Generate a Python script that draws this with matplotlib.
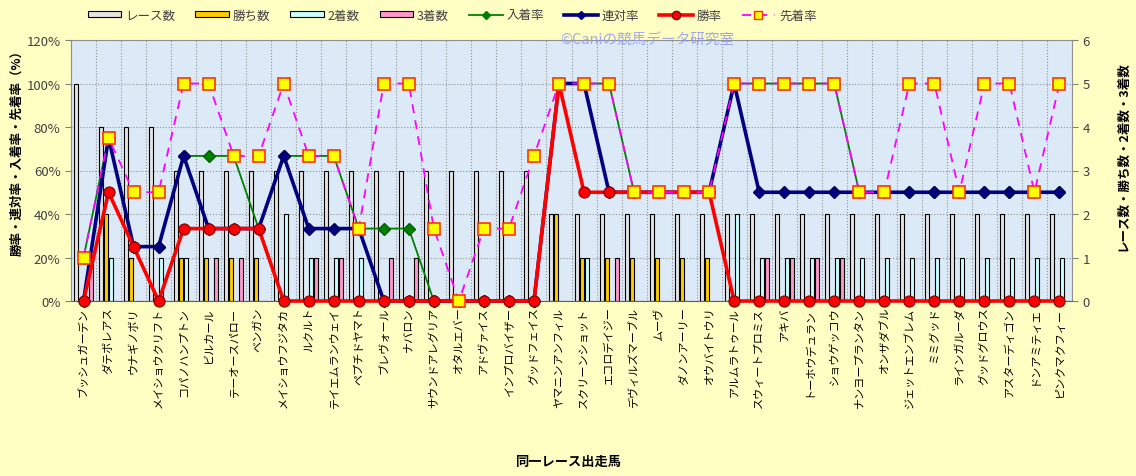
import numpy as np
import matplotlib
matplotlib.use("Agg")
import matplotlib.pyplot as plt
from matplotlib.lines import Line2D
from matplotlib.patches import Patch

plt.rcParams['font.family'] = ['Noto Sans CJK JP', 'DejaVu Sans']

HORSES = ["ブッシュガーデン", "ダテボレアス", "ウナギノボリ", "メイショウクリフト", "コパノハンプトン",
          "ビルカール", "テーオースパロー", "ベンガン", "メイショウフジタカ", "ルクルト",
          "テイエムランウェイ", "ペプチドヤマト", "ブレヴォール", "ナバロン", "サウンドアレグリア",
          "オタルエバー", "アドヴァイス", "インプロバイザー", "グッドフェイス", "ヤマニンアンフィル",
          "スクリーンショット", "エコロデイジー", "デヴィルズマーブル", "ムーヴ", "ダノンアーリー",
          "オウバイトウリ", "アルムラトゥール", "スウィートプロミス", "アキバ", "トーホウデュラン",
          "ショウゲッコウ", "ナンヨープランタン", "オンザダブル", "ジェットエンブレム", "ミミグッド",
          "ラインガルーダ", "グッドグロウス", "アスターディゴン", "ドンアミティエ", "ピンクマクフィー"]

# counts (right axis)
races   = [5, 4, 4, 4] + [3] * 15 + [2] * 21
wins    = [0, 2, 1, 0, 1, 1, 1, 1] + [0] * 11 + [2, 1, 1, 1, 1, 1, 1] + [0] * 14
seconds = [0, 1, 0, 1, 1, 0, 0, 0, 2, 1, 1, 1, 0, 0, 0, 0, 0, 0, 0,
           0, 1, 0, 0, 0, 0, 0, 2] + [1] * 13
thirds  = [1, 0, 0, 0, 0, 1, 1, 0, 0, 1, 1, 0, 1, 1, 0, 0, 0, 0, 0,
           0, 0, 1, 0, 0, 0, 0, 0, 1, 1, 1, 1] + [0] * 9

# rates in % (left axis)
place_rate = [20, 75, 25, 25, 66.7, 66.7, 66.7, 33.3, 66.7, 66.7, 66.7, 33.3, 33.3, 33.3,
              0, 0, 0, 0, 0, 100, 100, 100, 50, 50, 50, 50, 100, 100, 100, 100, 100,
              50, 50, 50, 50, 50, 50, 50, 50, 50]
top2_rate = [0, 75, 25, 25, 66.7, 33.3, 33.3, 33.3, 66.7, 33.3, 33.3, 33.3, 0, 0,
             0, 0, 0, 0, 0, 100, 100, 50, 50, 50, 50, 50, 100] + [50] * 13
win_rate = [0, 50, 25, 0, 33.3, 33.3, 33.3, 33.3] + [0] * 11 + [100, 50, 50, 50, 50, 50, 50] + [0] * 14
beat_rate = [20, 75, 50, 50, 100, 100, 66.7, 66.7, 100, 66.7, 66.7, 33.3, 100, 100,
             33.3, 0, 33.3, 33.3, 66.7, 100, 100, 100, 50, 50, 50, 50, 100, 100, 100,
             100, 100, 50, 50, 100, 100, 50, 100, 100, 50, 100]

x = np.arange(len(HORSES))

fig = plt.figure(figsize=(11.36, 4.77), dpi=100, facecolor="#FFFFC4")
ax = fig.add_axes([71 / 1136, 1 - 302 / 477, 1001 / 1136, 261 / 477])
ax.set_facecolor("#DCEAF8")
ax2 = ax.twinx()

w = 0.16
bar_specs = [(races, "#E4E4E4", "レース数"), (wins, "#FFCC00", "勝ち数"),
             (seconds, "#CCFFFF", "2着数"), (thirds, "#FF99CC", "3着数")]
for i, (vals, col, lab) in enumerate(bar_specs):
    ax.bar(x + (i - 1.5) * 0.2, vals, width=w, color=col, edgecolor="black", linewidth=0.8,
           label=lab, zorder=2)
ax.set_ylim(0, 6)
ax.set_xlim(-0.5, len(HORSES) - 0.5)
ax.yaxis.tick_right()
ax.yaxis.set_label_position("right")
ax.set_yticks(range(7))
ax.set_xticks(x)
ax.set_xticklabels(HORSES, rotation=90, fontsize=8)
ax.set_xticks(np.arange(-0.5, len(HORSES)), minor=True)
ax.tick_params(axis="x", which="major", length=0, pad=4)
ax.tick_params(axis="x", which="minor", length=0)
ax.tick_params(axis="y", labelsize=9.5, labelcolor="#404040", colors="#808080", length=4)
ax.grid(True, which="minor", axis="x", color="#909090", ls=":", lw=0.8, zorder=0)
ax.grid(True, which="major", axis="y", color="#909090", ls=":", lw=0.8, zorder=0)
ax.set_axisbelow(True)
for s in ax.spines.values():
    s.set_color("#909090")
ax.spines["bottom"].set_color("#606060")
ax.set_ylabel("レース数・勝ち数・2着数・3着数", fontsize=9, fontweight="bold")
ax.yaxis.set_label_coords((1116 - 71) / 1001, (302 - 156) / 261)

ax2.yaxis.tick_left()
ax2.yaxis.set_label_position("left")
ax2.set_ylim(0, 120)
ax2.set_yticks(range(0, 121, 20))
ax2.set_yticklabels([f"{v}%" for v in range(0, 121, 20)])
ax2.tick_params(axis="y", labelsize=9.5, labelcolor="#404040", colors="#808080", length=4)
for s in ax2.spines.values():
    s.set_visible(False)
ax2.set_ylabel("勝率・連対率・入着率・先着率（%）", fontsize=9, fontweight="bold")
ax2.yaxis.set_label_coords((23 - 71) / 1001, (302 - 150) / 261)

ax2.plot(x, place_rate, color="#008000", lw=1.3, marker="D", ms=6, mfc="#008000",
         mec="#006000", label="入着率", clip_on=False, zorder=3)
ax2.plot(x, top2_rate, color="#000080", lw=2.6, marker="D", ms=6, mfc="#000080",
         mec="#000060", label="連対率", clip_on=False, zorder=4)
ax2.plot(x, win_rate, color="#FF0000", lw=2.6, marker="o", ms=8, mfc="#FF0000",
         mec="#800000", mew=0.8, label="勝率", clip_on=False, zorder=5)
ax2.plot(x, beat_rate, color="#FF00FF", lw=1.3, ls=(0, (5, 4)), marker="s", ms=8,
         mfc="#FFFF00", mec="#FF3300", mew=1.2, label="先着率", clip_on=False, zorder=6)

handles = [Patch(facecolor=c, edgecolor="black", linewidth=0.8) for _, c, _ in bar_specs]
handles += [Line2D([], [], color="#008000", lw=1.3, marker="D", ms=4),
            Line2D([], [], color="#000080", lw=2.6, marker="D", ms=4),
            Line2D([], [], color="#FF0000", lw=2.6, marker="o", ms=6, mec="#800000"),
            Line2D([], [], color="#FF00FF", lw=1.3, ls=(0, (5, 4)), marker="s", ms=6,
                   mfc="#FFFF00", mec="#FF3300")]
labels = ["レース数", "勝ち数", "2着数", "3着数", "入着率", "連対率", "勝率", "先着率"]
fig.legend(handles, labels, loc="center", bbox_to_anchor=(452 / 1136, 1 - 16 / 477), ncol=8,
           frameon=False, fontsize=9, handlelength=2.7, handleheight=0.45,
           columnspacing=1.6, handletextpad=0.3, labelcolor="#404040")

fig.text(647 / 1136, 1 - 41 / 477, "©Caniの競馬データ研究室", fontsize=10.5,
         color="#8F9BF0", alpha=0.85, ha="center", va="center", zorder=10)
fig.text(568 / 1136, 1 - 462 / 477, "同一レース出走馬", fontsize=9.5, fontweight="bold",
         ha="center", va="center")

fig.savefig("out.png", dpi=100, facecolor=fig.get_facecolor(), edgecolor="#404040")
